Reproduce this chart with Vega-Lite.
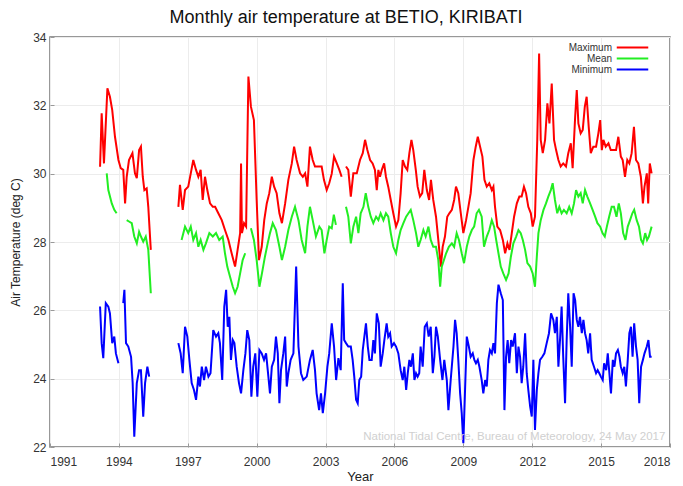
{
"$schema": "https://vega.github.io/schema/vega-lite/v6.json",
"width": 620, "height": 410,
"autosize": {"type": "none"},
"padding": {"left": 50, "top": 37, "right": 13, "bottom": 39},
"background": "white",
"title": {"text": "Monthly air temperature at BETIO, KIRIBATI", "fontSize": 18, "fontWeight": "normal", "font": "Liberation Sans", "color": "#111", "offset": 4, "dx": -14},
"config": {
  "view": {"stroke": "#777", "strokeWidth": 1.5},
  "font": "Liberation Sans",
  "axis": {"domain": false, "grid": true, "gridColor": "#ececec", "gridWidth": 1, "tickColor": "#999", "tickSize": -4, "labelFontSize": 12, "labelColor": "#333", "titleFontSize": 13, "titleFontWeight": "normal", "titleColor": "#222", "labelFont": "Liberation Sans", "titleFont": "Liberation Sans"}
},
"datasets": {
"max": [
{"t":1993.18,"v":30.20},{"t":1993.25,"v":31.77},{"t":1993.35,"v":30.30},{"t":1993.50,"v":32.50},{"t":1993.61,"v":32.25},{"t":1993.71,"v":31.86},{"t":1993.83,"v":31.08},{"t":1993.98,"v":30.40},{"t":1994.08,"v":30.16},{"t":1994.19,"v":30.11},{"t":1994.27,"v":29.13},{"t":1994.34,"v":29.91},{"t":1994.44,"v":30.40},{"t":1994.59,"v":30.60},{"t":1994.70,"v":30.01},{"t":1994.78,"v":29.87},{"t":1994.88,"v":30.69},{"t":1994.96,"v":30.79},{"t":1995.04,"v":29.91},{"t":1995.11,"v":29.52},{"t":1995.21,"v":29.57},{"t":1995.28,"v":29.03},{"t":1995.39,"v":27.77},
{"t":1996.0,"v":null},
{"t":1996.59,"v":29.03},{"t":1996.66,"v":29.67},{"t":1996.78,"v":28.94},{"t":1996.88,"v":29.52},{"t":1997.02,"v":29.62},{"t":1997.13,"v":30.01},{"t":1997.24,"v":30.40},{"t":1997.36,"v":30.11},{"t":1997.46,"v":29.91},{"t":1997.56,"v":30.11},{"t":1997.65,"v":29.23},{"t":1997.75,"v":29.91},{"t":1997.85,"v":29.52},{"t":1997.97,"v":29.13},{"t":1998.09,"v":29.03},{"t":1998.19,"v":29.03},{"t":1998.33,"v":28.84},{"t":1998.48,"v":28.64},{"t":1998.62,"v":28.35},{"t":1998.77,"v":28.06},{"t":1998.91,"v":27.67},{"t":1999.06,"v":27.28},{"t":1999.17,"v":27.77},{"t":1999.28,"v":28.26},{"t":1999.32,"v":30.30},{"t":1999.36,"v":28.26},{"t":1999.45,"v":28.55},{"t":1999.54,"v":28.45},{"t":1999.64,"v":32.84},{"t":1999.75,"v":31.96},{"t":1999.88,"v":31.57},{"t":2000.00,"v":29.23},{"t":2000.10,"v":27.47},{"t":2000.22,"v":27.86},{"t":2000.33,"v":28.64},{"t":2000.44,"v":29.13},{"t":2000.55,"v":29.43},{"t":2000.66,"v":29.91},{"t":2000.76,"v":29.62},{"t":2000.87,"v":29.43},{"t":2000.99,"v":28.84},{"t":2001.10,"v":28.55},{"t":2001.24,"v":29.13},{"t":2001.38,"v":29.82},{"t":2001.53,"v":30.30},{"t":2001.63,"v":30.79},{"t":2001.74,"v":30.40},{"t":2001.89,"v":30.01},{"t":2002.01,"v":29.91},{"t":2002.11,"v":30.01},{"t":2002.21,"v":29.62},{"t":2002.32,"v":30.79},{"t":2002.44,"v":30.40},{"t":2002.54,"v":30.21},{"t":2002.69,"v":30.21},{"t":2002.83,"v":30.21},{"t":2002.93,"v":29.82},{"t":2003.05,"v":29.52},{"t":2003.16,"v":29.72},{"t":2003.27,"v":30.00},{"t":2003.37,"v":30.50},{"t":2003.49,"v":30.30},{"t":2003.60,"v":30.11},{"t":2003.70,"v":29.91},
{"t":2003.80,"v":null},
{"t":2003.89,"v":30.21},{"t":2003.99,"v":30.11},{"t":2004.10,"v":29.33},{"t":2004.21,"v":30.01},{"t":2004.36,"v":30.01},{"t":2004.50,"v":30.40},{"t":2004.62,"v":30.60},{"t":2004.72,"v":30.99},{"t":2004.82,"v":30.69},{"t":2004.94,"v":30.40},{"t":2005.05,"v":30.30},{"t":2005.15,"v":30.11},{"t":2005.23,"v":29.52},{"t":2005.30,"v":30.11},{"t":2005.37,"v":29.91},{"t":2005.45,"v":30.11},{"t":2005.55,"v":30.30},{"t":2005.63,"v":29.91},{"t":2005.73,"v":29.62},{"t":2005.84,"v":29.23},{"t":2005.95,"v":28.84},{"t":2006.07,"v":28.45},{"t":2006.17,"v":28.64},{"t":2006.27,"v":29.43},{"t":2006.36,"v":30.40},{"t":2006.46,"v":30.21},{"t":2006.56,"v":30.11},{"t":2006.65,"v":30.60},{"t":2006.74,"v":30.99},{"t":2006.82,"v":30.69},{"t":2006.93,"v":30.11},{"t":2007.01,"v":29.62},{"t":2007.11,"v":29.33},{"t":2007.21,"v":29.43},{"t":2007.30,"v":30.11},{"t":2007.41,"v":29.52},{"t":2007.51,"v":29.23},{"t":2007.59,"v":29.82},{"t":2007.69,"v":29.23},{"t":2007.81,"v":28.74},{"t":2007.91,"v":28.06},{"t":2008.02,"v":27.28},{"t":2008.10,"v":27.86},{"t":2008.20,"v":28.16},{"t":2008.30,"v":28.74},{"t":2008.39,"v":28.84},{"t":2008.50,"v":28.94},{"t":2008.60,"v":29.23},{"t":2008.68,"v":29.62},{"t":2008.78,"v":29.43},{"t":2008.89,"v":28.84},{"t":2009.00,"v":28.26},{"t":2009.12,"v":28.64},{"t":2009.22,"v":29.03},{"t":2009.32,"v":29.43},{"t":2009.44,"v":30.40},{"t":2009.54,"v":30.79},{"t":2009.63,"v":31.08},{"t":2009.73,"v":30.79},{"t":2009.83,"v":30.50},{"t":2009.92,"v":29.82},{"t":2010.02,"v":29.62},{"t":2010.13,"v":29.72},{"t":2010.24,"v":29.52},{"t":2010.31,"v":29.62},{"t":2010.38,"v":29.03},{"t":2010.48,"v":28.45},{"t":2010.60,"v":28.35},{"t":2010.72,"v":28.06},{"t":2010.82,"v":27.67},{"t":2010.92,"v":27.96},{"t":2011.01,"v":27.77},{"t":2011.11,"v":28.26},{"t":2011.21,"v":28.74},{"t":2011.33,"v":29.13},{"t":2011.44,"v":29.33},{"t":2011.54,"v":29.33},{"t":2011.64,"v":29.62},{"t":2011.73,"v":29.43},{"t":2011.83,"v":29.03},{"t":2011.94,"v":28.84},{"t":2012.02,"v":28.45},{"t":2012.12,"v":28.74},{"t":2012.22,"v":30.99},{"t":2012.30,"v":33.52},{"t":2012.37,"v":30.99},{"t":2012.46,"v":30.60},{"t":2012.56,"v":30.99},{"t":2012.66,"v":32.06},{"t":2012.75,"v":31.47},{"t":2012.85,"v":32.64},{"t":2012.95,"v":30.99},{"t":2013.04,"v":30.69},{"t":2013.14,"v":30.40},{"t":2013.24,"v":30.21},{"t":2013.35,"v":30.30},{"t":2013.47,"v":30.21},{"t":2013.57,"v":30.60},{"t":2013.68,"v":30.89},{"t":2013.76,"v":30.16},{"t":2013.87,"v":31.67},{"t":2013.94,"v":32.45},{"t":2014.01,"v":31.47},{"t":2014.11,"v":31.18},{"t":2014.20,"v":31.28},{"t":2014.29,"v":31.96},{"t":2014.37,"v":32.25},{"t":2014.46,"v":31.37},{"t":2014.55,"v":30.60},{"t":2014.66,"v":30.79},{"t":2014.78,"v":30.79},{"t":2014.88,"v":31.18},{"t":2014.96,"v":31.57},{"t":2015.03,"v":30.69},{"t":2015.10,"v":30.99},{"t":2015.20,"v":30.79},{"t":2015.32,"v":30.89},{"t":2015.42,"v":30.69},{"t":2015.54,"v":30.69},{"t":2015.65,"v":30.69},{"t":2015.75,"v":31.08},{"t":2015.86,"v":30.50},{"t":2015.94,"v":30.40},{"t":2016.04,"v":29.91},{"t":2016.14,"v":30.40},{"t":2016.23,"v":30.30},{"t":2016.33,"v":30.60},{"t":2016.43,"v":31.37},{"t":2016.52,"v":30.40},{"t":2016.62,"v":30.30},{"t":2016.73,"v":29.91},{"t":2016.82,"v":29.13},{"t":2016.89,"v":29.62},{"t":2016.99,"v":30.01},{"t":2017.05,"v":29.13},{"t":2017.12,"v":30.30},{"t":2017.20,"v":30.01}
],
"mean": [
{"t":1993.47,"v":30.01},{"t":1993.54,"v":29.52},{"t":1993.69,"v":29.13},{"t":1993.80,"v":28.94},{"t":1993.90,"v":28.84},
{"t":1994.1,"v":null},
{"t":1994.34,"v":28.64},{"t":1994.44,"v":28.60},{"t":1994.56,"v":28.55},{"t":1994.67,"v":28.16},{"t":1994.78,"v":27.96},{"t":1994.88,"v":28.30},{"t":1994.96,"v":28.16},{"t":1995.06,"v":28.01},{"t":1995.17,"v":28.16},{"t":1995.28,"v":27.77},{"t":1995.39,"v":26.50},
{"t":1996.0,"v":null},
{"t":1996.73,"v":28.06},{"t":1996.88,"v":28.45},{"t":1997.02,"v":28.26},{"t":1997.13,"v":28.45},{"t":1997.24,"v":28.06},{"t":1997.36,"v":28.26},{"t":1997.46,"v":27.86},{"t":1997.56,"v":28.06},{"t":1997.68,"v":27.77},{"t":1997.79,"v":27.96},{"t":1997.94,"v":28.26},{"t":1998.09,"v":28.16},{"t":1998.23,"v":28.26},{"t":1998.37,"v":28.06},{"t":1998.52,"v":28.16},{"t":1998.62,"v":27.67},{"t":1998.72,"v":27.28},{"t":1998.84,"v":26.98},{"t":1998.96,"v":26.69},{"t":1999.06,"v":26.50},{"t":1999.17,"v":26.69},{"t":1999.28,"v":27.08},{"t":1999.39,"v":27.47},{"t":1999.50,"v":27.67},
{"t":1999.6,"v":null},
{"t":1999.75,"v":28.40},{"t":1999.88,"v":28.06},{"t":2000.00,"v":27.47},{"t":2000.12,"v":26.69},{"t":2000.23,"v":27.08},{"t":2000.36,"v":27.57},{"t":2000.48,"v":27.96},{"t":2000.58,"v":28.26},{"t":2000.70,"v":28.55},{"t":2000.84,"v":28.35},{"t":2000.99,"v":27.86},{"t":2001.10,"v":27.47},{"t":2001.24,"v":27.86},{"t":2001.38,"v":28.35},{"t":2001.53,"v":28.74},{"t":2001.67,"v":29.03},{"t":2001.82,"v":28.64},{"t":2001.96,"v":28.06},{"t":2002.11,"v":27.67},{"t":2002.21,"v":28.45},{"t":2002.32,"v":29.03},{"t":2002.44,"v":28.64},{"t":2002.58,"v":28.16},{"t":2002.73,"v":28.45},{"t":2002.83,"v":28.35},{"t":2002.95,"v":27.67},{"t":2003.05,"v":28.06},{"t":2003.16,"v":28.45},{"t":2003.27,"v":28.40},{"t":2003.36,"v":28.80},{"t":2003.45,"v":28.50},
{"t":2003.65,"v":null},
{"t":2003.89,"v":29.03},{"t":2003.99,"v":28.74},{"t":2004.10,"v":27.96},{"t":2004.21,"v":28.45},{"t":2004.33,"v":28.74},{"t":2004.43,"v":28.26},{"t":2004.53,"v":28.84},{"t":2004.65,"v":29.03},{"t":2004.75,"v":29.43},{"t":2004.86,"v":29.03},{"t":2004.97,"v":28.74},{"t":2005.08,"v":28.55},{"t":2005.20,"v":28.74},{"t":2005.30,"v":28.64},{"t":2005.40,"v":28.84},{"t":2005.52,"v":28.64},{"t":2005.63,"v":28.84},{"t":2005.73,"v":28.74},{"t":2005.84,"v":28.26},{"t":2005.95,"v":27.86},{"t":2006.07,"v":27.67},{"t":2006.17,"v":28.06},{"t":2006.27,"v":28.35},{"t":2006.39,"v":28.55},{"t":2006.51,"v":28.74},{"t":2006.61,"v":28.84},{"t":2006.71,"v":28.94},{"t":2006.82,"v":28.64},{"t":2006.94,"v":28.26},{"t":2007.04,"v":27.86},{"t":2007.14,"v":28.06},{"t":2007.26,"v":28.35},{"t":2007.36,"v":28.16},{"t":2007.48,"v":28.45},{"t":2007.58,"v":28.06},{"t":2007.69,"v":27.86},{"t":2007.81,"v":27.86},{"t":2007.91,"v":27.47},{"t":2007.99,"v":26.69},{"t":2008.06,"v":27.28},{"t":2008.25,"v":27.67},{"t":2008.37,"v":27.86},{"t":2008.50,"v":27.96},{"t":2008.60,"v":27.86},{"t":2008.71,"v":28.26},{"t":2008.81,"v":28.06},{"t":2008.93,"v":27.67},{"t":2009.03,"v":27.38},{"t":2009.15,"v":27.86},{"t":2009.26,"v":28.16},{"t":2009.37,"v":28.35},{"t":2009.47,"v":28.45},{"t":2009.58,"v":28.84},{"t":2009.68,"v":28.94},{"t":2009.80,"v":28.74},{"t":2009.90,"v":27.86},{"t":2010.02,"v":28.16},{"t":2010.13,"v":28.35},{"t":2010.24,"v":28.64},{"t":2010.34,"v":28.45},{"t":2010.43,"v":28.06},{"t":2010.53,"v":27.67},{"t":2010.63,"v":27.28},{"t":2010.74,"v":27.08},{"t":2010.86,"v":26.89},{"t":2010.97,"v":27.08},{"t":2011.07,"v":27.57},{"t":2011.18,"v":27.96},{"t":2011.30,"v":28.16},{"t":2011.40,"v":28.35},{"t":2011.50,"v":28.26},{"t":2011.59,"v":28.06},{"t":2011.69,"v":27.77},{"t":2011.79,"v":27.38},{"t":2011.91,"v":27.28},{"t":2012.02,"v":27.08},{"t":2012.12,"v":26.69},{"t":2012.20,"v":27.57},{"t":2012.27,"v":28.26},{"t":2012.37,"v":28.64},{"t":2012.49,"v":28.94},{"t":2012.60,"v":29.13},{"t":2012.70,"v":29.33},{"t":2012.81,"v":29.52},{"t":2012.89,"v":29.72},{"t":2012.99,"v":29.23},{"t":2013.09,"v":28.84},{"t":2013.18,"v":29.03},{"t":2013.28,"v":28.84},{"t":2013.38,"v":28.94},{"t":2013.50,"v":28.84},{"t":2013.61,"v":29.03},{"t":2013.72,"v":28.84},{"t":2013.82,"v":29.13},{"t":2013.91,"v":29.52},{"t":2014.01,"v":29.33},{"t":2014.11,"v":29.43},{"t":2014.20,"v":29.13},{"t":2014.30,"v":29.52},{"t":2014.40,"v":29.33},{"t":2014.52,"v":29.13},{"t":2014.63,"v":28.94},{"t":2014.74,"v":28.74},{"t":2014.84,"v":28.55},{"t":2014.96,"v":28.45},{"t":2015.06,"v":28.26},{"t":2015.16,"v":28.16},{"t":2015.25,"v":28.45},{"t":2015.35,"v":28.74},{"t":2015.46,"v":29.03},{"t":2015.56,"v":29.03},{"t":2015.67,"v":28.74},{"t":2015.77,"v":29.13},{"t":2015.86,"v":28.84},{"t":2015.96,"v":28.26},{"t":2016.06,"v":28.06},{"t":2016.16,"v":28.45},{"t":2016.26,"v":28.64},{"t":2016.36,"v":28.84},{"t":2016.44,"v":28.94},{"t":2016.55,"v":28.64},{"t":2016.65,"v":28.45},{"t":2016.74,"v":28.06},{"t":2016.82,"v":27.96},{"t":2016.92,"v":28.26},{"t":2017.00,"v":28.06},{"t":2017.08,"v":28.16},{"t":2017.20,"v":28.45}
],
"min": [
{"t":1993.18,"v":26.11},{"t":1993.25,"v":25.04},{"t":1993.32,"v":24.60},{"t":1993.43,"v":26.21},{"t":1993.54,"v":26.11},{"t":1993.61,"v":25.91},{"t":1993.71,"v":25.04},{"t":1993.80,"v":25.23},{"t":1993.87,"v":24.74},{"t":1993.98,"v":24.45},
{"t":1994.1,"v":null},
{"t":1994.19,"v":26.21},{"t":1994.24,"v":26.60},{"t":1994.31,"v":25.04},{"t":1994.41,"v":24.94},{"t":1994.53,"v":24.64},{"t":1994.60,"v":23.87},{"t":1994.67,"v":22.30},{"t":1994.78,"v":23.87},{"t":1994.88,"v":24.25},{"t":1994.96,"v":24.25},{"t":1995.06,"v":22.89},{"t":1995.14,"v":23.87},{"t":1995.24,"v":24.35},{"t":1995.32,"v":24.06},
{"t":1996.0,"v":null},
{"t":1996.59,"v":25.04},{"t":1996.69,"v":24.74},{"t":1996.78,"v":24.16},{"t":1996.88,"v":25.52},{"t":1996.98,"v":25.23},{"t":1997.07,"v":24.55},{"t":1997.17,"v":23.87},{"t":1997.27,"v":23.67},{"t":1997.36,"v":23.38},{"t":1997.46,"v":24.06},{"t":1997.53,"v":23.77},{"t":1997.61,"v":24.35},{"t":1997.71,"v":23.96},{"t":1997.79,"v":24.35},{"t":1997.90,"v":24.06},{"t":1997.99,"v":24.16},{"t":1998.11,"v":25.42},{"t":1998.23,"v":25.23},{"t":1998.33,"v":25.33},{"t":1998.40,"v":25.04},{"t":1998.50,"v":23.96},{"t":1998.59,"v":26.11},{"t":1998.67,"v":26.60},{"t":1998.74,"v":25.52},{"t":1998.81,"v":25.81},{"t":1998.88,"v":24.55},{"t":1998.96,"v":25.13},{"t":1999.03,"v":25.04},{"t":1999.13,"v":24.35},{"t":1999.23,"v":23.87},{"t":1999.32,"v":23.57},{"t":1999.42,"v":24.25},{"t":1999.51,"v":24.74},{"t":1999.59,"v":25.42},{"t":1999.68,"v":25.13},{"t":1999.77,"v":23.47},{"t":1999.85,"v":24.35},{"t":1999.94,"v":24.74},{"t":2000.03,"v":23.47},{"t":2000.12,"v":24.84},{"t":2000.22,"v":24.74},{"t":2000.32,"v":24.55},{"t":2000.41,"v":24.74},{"t":2000.51,"v":24.06},{"t":2000.58,"v":23.57},{"t":2000.66,"v":24.35},{"t":2000.76,"v":24.55},{"t":2000.84,"v":25.23},{"t":2000.92,"v":24.74},{"t":2000.99,"v":23.28},{"t":2001.06,"v":24.25},{"t":2001.16,"v":24.74},{"t":2001.24,"v":25.23},{"t":2001.31,"v":23.77},{"t":2001.38,"v":24.16},{"t":2001.48,"v":24.55},{"t":2001.60,"v":24.74},{"t":2001.72,"v":27.28},{"t":2001.82,"v":24.94},{"t":2001.93,"v":24.16},{"t":2002.03,"v":23.96},{"t":2002.18,"v":24.06},{"t":2002.32,"v":24.55},{"t":2002.44,"v":24.84},{"t":2002.54,"v":24.25},{"t":2002.61,"v":23.57},{"t":2002.72,"v":23.08},{"t":2002.80,"v":23.57},{"t":2002.88,"v":22.99},{"t":2002.98,"v":23.57},{"t":2003.08,"v":24.35},{"t":2003.16,"v":24.74},{"t":2003.27,"v":25.62},{"t":2003.37,"v":24.94},{"t":2003.46,"v":23.96},{"t":2003.56,"v":24.60},{"t":2003.66,"v":24.25},{"t":2003.75,"v":26.79},{"t":2003.81,"v":25.13},{"t":2003.89,"v":25.04},{"t":2003.99,"v":24.94},{"t":2004.10,"v":24.94},{"t":2004.18,"v":24.55},{"t":2004.25,"v":24.06},{"t":2004.33,"v":23.38},{"t":2004.40,"v":23.28},{"t":2004.47,"v":23.96},{"t":2004.55,"v":24.06},{"t":2004.62,"v":24.84},{"t":2004.69,"v":25.23},{"t":2004.76,"v":25.62},{"t":2004.84,"v":24.94},{"t":2004.91,"v":24.55},{"t":2005.01,"v":24.55},{"t":2005.08,"v":25.13},{"t":2005.15,"v":24.74},{"t":2005.23,"v":25.91},{"t":2005.32,"v":25.62},{"t":2005.40,"v":24.35},{"t":2005.49,"v":24.74},{"t":2005.56,"v":25.13},{"t":2005.66,"v":25.62},{"t":2005.73,"v":25.23},{"t":2005.81,"v":25.33},{"t":2005.88,"v":24.94},{"t":2005.98,"v":25.04},{"t":2006.07,"v":24.94},{"t":2006.17,"v":24.74},{"t":2006.27,"v":24.25},{"t":2006.36,"v":23.96},{"t":2006.43,"v":24.35},{"t":2006.51,"v":23.67},{"t":2006.58,"v":24.16},{"t":2006.65,"v":24.55},{"t":2006.72,"v":24.35},{"t":2006.80,"v":24.74},{"t":2006.87,"v":23.96},{"t":2006.94,"v":24.16},{"t":2007.01,"v":24.06},{"t":2007.08,"v":24.16},{"t":2007.14,"v":24.94},{"t":2007.23,"v":24.35},{"t":2007.32,"v":25.52},{"t":2007.41,"v":25.62},{"t":2007.49,"v":25.23},{"t":2007.58,"v":25.52},{"t":2007.67,"v":24.16},{"t":2007.74,"v":24.64},{"t":2007.81,"v":25.52},{"t":2007.89,"v":25.23},{"t":2007.99,"v":24.55},{"t":2008.09,"v":23.96},{"t":2008.17,"v":24.55},{"t":2008.28,"v":23.96},{"t":2008.35,"v":23.08},{"t":2008.45,"v":23.96},{"t":2008.57,"v":24.94},{"t":2008.64,"v":25.72},{"t":2008.71,"v":25.33},{"t":2008.78,"v":24.55},{"t":2008.86,"v":23.57},{"t":2008.93,"v":22.99},{"t":2009.00,"v":22.11},{"t":2009.07,"v":23.57},{"t":2009.15,"v":25.23},{"t":2009.24,"v":24.94},{"t":2009.32,"v":24.64},{"t":2009.41,"v":24.74},{"t":2009.48,"v":24.55},{"t":2009.55,"v":24.45},{"t":2009.63,"v":24.55},{"t":2009.70,"v":24.35},{"t":2009.80,"v":23.96},{"t":2009.87,"v":23.57},{"t":2009.95,"v":23.96},{"t":2010.02,"v":23.77},{"t":2010.09,"v":24.55},{"t":2010.16,"v":24.84},{"t":2010.24,"v":24.74},{"t":2010.31,"v":25.04},{"t":2010.38,"v":24.74},{"t":2010.46,"v":26.21},{"t":2010.53,"v":26.75},{"t":2010.63,"v":26.50},{"t":2010.72,"v":26.30},{"t":2010.79,"v":23.08},{"t":2010.86,"v":24.64},{"t":2010.93,"v":25.13},{"t":2011.00,"v":24.45},{"t":2011.08,"v":25.13},{"t":2011.15,"v":24.94},{"t":2011.25,"v":25.33},{"t":2011.33,"v":24.16},{"t":2011.40,"v":24.94},{"t":2011.47,"v":24.64},{"t":2011.54,"v":23.87},{"t":2011.61,"v":24.35},{"t":2011.69,"v":25.33},{"t":2011.76,"v":24.16},{"t":2011.83,"v":23.67},{"t":2011.91,"v":23.18},{"t":2011.98,"v":22.89},{"t":2012.05,"v":24.55},{"t":2012.12,"v":22.50},{"t":2012.20,"v":23.67},{"t":2012.27,"v":24.16},{"t":2012.34,"v":24.55},{"t":2012.44,"v":24.64},{"t":2012.53,"v":24.74},{"t":2012.63,"v":25.04},{"t":2012.73,"v":25.33},{"t":2012.82,"v":25.91},{"t":2012.92,"v":25.72},{"t":2012.99,"v":25.33},{"t":2013.07,"v":25.81},{"t":2013.14,"v":24.35},{"t":2013.21,"v":25.13},{"t":2013.28,"v":26.11},{"t":2013.35,"v":24.64},{"t":2013.43,"v":23.28},{"t":2013.50,"v":25.13},{"t":2013.57,"v":26.50},{"t":2013.65,"v":25.52},{"t":2013.72,"v":24.35},{"t":2013.80,"v":26.50},{"t":2013.87,"v":26.30},{"t":2013.94,"v":25.72},{"t":2014.01,"v":25.52},{"t":2014.08,"v":25.81},{"t":2014.16,"v":25.33},{"t":2014.23,"v":25.72},{"t":2014.30,"v":25.33},{"t":2014.37,"v":25.13},{"t":2014.44,"v":24.74},{"t":2014.52,"v":25.33},{"t":2014.59,"v":24.55},{"t":2014.69,"v":24.35},{"t":2014.78,"v":24.16},{"t":2014.85,"v":24.25},{"t":2014.92,"v":24.16},{"t":2014.99,"v":24.06},{"t":2015.07,"v":23.96},{"t":2015.13,"v":24.45},{"t":2015.22,"v":24.25},{"t":2015.29,"v":24.74},{"t":2015.36,"v":24.16},{"t":2015.43,"v":23.57},{"t":2015.51,"v":24.55},{"t":2015.58,"v":24.35},{"t":2015.65,"v":24.74},{"t":2015.73,"v":24.84},{"t":2015.80,"v":24.64},{"t":2015.86,"v":24.35},{"t":2015.94,"v":24.16},{"t":2016.01,"v":24.35},{"t":2016.08,"v":23.77},{"t":2016.16,"v":24.55},{"t":2016.23,"v":25.33},{"t":2016.30,"v":25.52},{"t":2016.37,"v":24.64},{"t":2016.44,"v":25.62},{"t":2016.52,"v":24.94},{"t":2016.59,"v":24.55},{"t":2016.66,"v":23.28},{"t":2016.74,"v":24.35},{"t":2016.82,"v":24.55},{"t":2016.89,"v":24.74},{"t":2016.99,"v":24.94},{"t":2017.06,"v":25.13},{"t":2017.13,"v":24.64},{"t":2017.20,"v":24.64}
]
},
"layer": [
{
 "data": {"name": "max"},
 "mark": {"type": "line", "strokeWidth": 2, "invalid": "break-paths-filter-domains"},
 "encoding": {
  "x": {"field": "t", "type": "quantitative", "scale": {"domain": [1991, 2018], "nice": false, "zero": false},
        "axis": {"title": "Year", "values": [1991,1994,1997,2000,2003,2006,2009,2012,2015,2018], "format": "d", "labelPadding": 13, "titlePadding": 3}},
  "y": {"field": "v", "type": "quantitative", "scale": {"domain": [22, 34], "nice": false, "zero": false},
        "axis": {"title": "Air Temperature (deg C)", "values": [22,24,26,28,30,32,34], "labelPadding": 8, "titlePadding": 10, "titleFontSize": 12}},
  "color": {"datum": "Maximum", "type": "nominal",
            "scale": {"domain": ["Maximum", "Mean", "Minimum"], "range": ["#ff0000", "#22ee22", "#0000ff"]},
            "legend": {"title": null, "orient": "none", "legendX": 577, "legendY": 5, "labelAlign": "right", "labelOffset": -26, "symbolType": "M-3.5,0H3.5", "symbolSize": 81, "symbolStrokeWidth": 2, "labelFontSize": 10, "labelColor": "#333", "rowPadding": 0, "padding": 0}}
 }
},
{
 "data": {"name": "mean"},
 "mark": {"type": "line", "strokeWidth": 2, "invalid": "break-paths-filter-domains"},
 "encoding": {
  "x": {"field": "t", "type": "quantitative"},
  "y": {"field": "v", "type": "quantitative"},
  "color": {"datum": "Mean", "type": "nominal"}
 }
},
{
 "data": {"name": "min"},
 "mark": {"type": "line", "strokeWidth": 2, "invalid": "break-paths-filter-domains"},
 "encoding": {
  "x": {"field": "t", "type": "quantitative"},
  "y": {"field": "v", "type": "quantitative"},
  "color": {"datum": "Minimum", "type": "nominal"}
 }
},
{
 "data": {"values": [{"note": "National Tidal Centre, Bureau of Meteorology, 24 May 2017"}]},
 "mark": {"type": "text", "align": "right", "baseline": "middle", "fontSize": 11.5, "color": "#d0d0d0", "font": "Liberation Sans"},
 "encoding": {
  "x": {"datum": 2017.8, "type": "quantitative"},
  "y": {"datum": 22.28, "type": "quantitative"},
  "text": {"field": "note"}
 }
}
]
}
